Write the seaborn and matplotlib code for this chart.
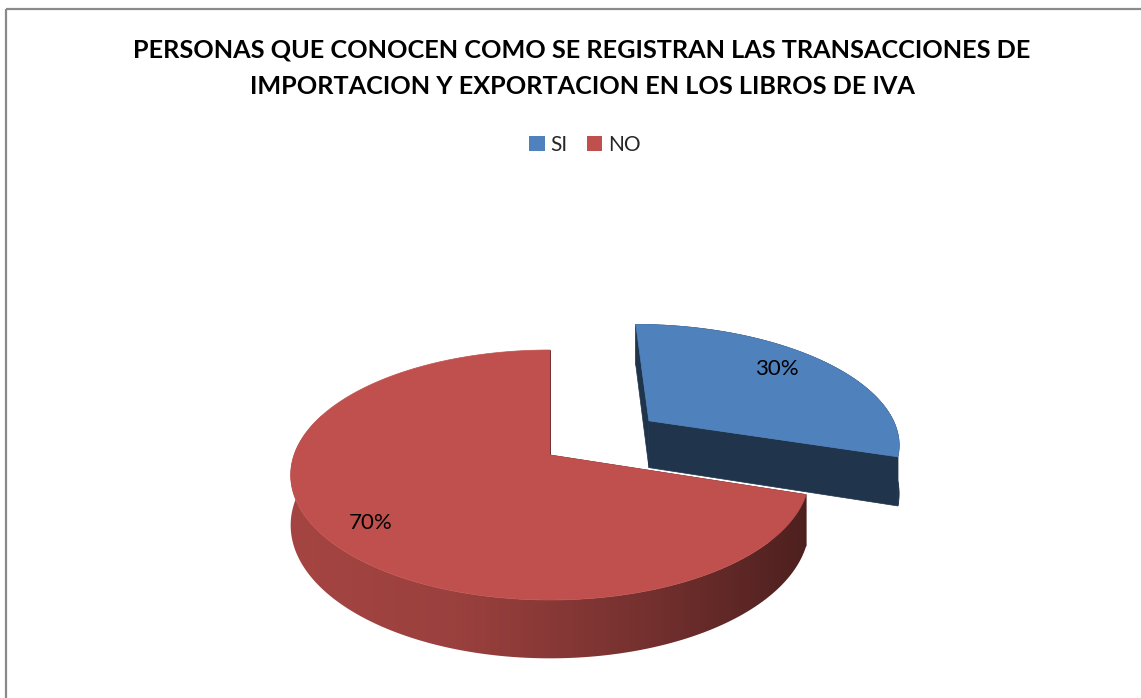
import numpy as np
import matplotlib
matplotlib.use("Agg")
import matplotlib.pyplot as plt
from matplotlib.patches import Polygon, Rectangle, Patch
from matplotlib.colors import LinearSegmentedColormap
import seaborn as sns

# ---- data ----
categories = ["SI", "NO"]
values = [30, 70]
pct_labels = ["30%", "70%"]
title_lines = ["PERSONAS QUE CONOCEN COMO SE REGISTRAN LAS TRANSACCIONES DE",
               "IMPORTACION Y EXPORTACION EN LOS LIBROS DE IVA"]
explode = [0.5, 0.0]

sns.set_theme(style="white")
plt.rcParams['font.family'] = ['Lato', 'DejaVu Sans']
top_colors = sns.color_palette(["#4F81BD", "#C0504D"])

W, H = 1141, 698
fig = plt.figure(figsize=(W / 100, H / 100), dpi=100)
ax = fig.add_axes([0, 0, 1, 1])

# ---- 3D perspective geometry ----
CX, CY = 550, 455
R, RY, K, DEPTH = 256, 121.8, 0.16, 49
label_r = [0.72, 0.8]
label_dy = [-8, 6]


def proj(u, v, z):
    s = 1.0 / (1.0 + K * v)
    return CX + R * u * s, CY - RY * v * s + DEPTH * z * s


def shade(c, f):
    return tuple(min(1, max(0, ch * f)) for ch in c)


total = float(sum(values))
start = 90.0
slices = []
for val in values:
    t0 = start
    t1 = start - 360.0 * val / total
    start = t1
    slices.append((t0, t1))

for i in range(len(values)):
    t0, t1 = slices[i]
    mid = np.radians((t0 + t1) / 2)
    a, b = explode[i] * np.cos(mid), explode[i] * np.sin(mid)
    ts = np.radians(np.linspace(t0, t1, 300))
    col = top_colors[i]
    dark = shade(col, 0.4)
    # radial faces
    for t in (np.radians(t0), np.radians(t1)):
        pts = [proj(a, b, 0), proj(a + np.cos(t), b + np.sin(t), 0),
               proj(a + np.cos(t), b + np.sin(t), 1), proj(a, b, 1)]
        ax.add_patch(Polygon(pts, closed=True, fc=dark, ec=dark, lw=0.5))
    # outer side (front part only; back part is hidden by the top face)
    lo = max(t1, -200.0)
    ts_side = np.radians(np.linspace(t0, lo, 300))
    top_rim = [proj(a + np.cos(t), b + np.sin(t), 0) for t in ts_side]
    bot_rim = [proj(a + np.cos(t), b + np.sin(t), 1) for t in ts_side[::-1]]
    side = Polygon(top_rim + bot_rim, closed=True, fc=dark if i == 0 else 'none',
                   ec=dark if i == 0 else 'none', lw=0.5)
    ax.add_patch(side)
    if i == 1:
        xs = [p[0] for p in top_rim]
        x0, x1 = min(xs) - 2, max(xs) + 2
        cmap = LinearSegmentedColormap.from_list(
            "side", [shade(col, 0.86), shade(col, 0.80), shade(col, 0.62), shade(col, 0.40)])
        grad = np.linspace(0, 1, 512)[None, :]
        ys = [p[1] for p in top_rim + bot_rim]
        im = ax.imshow(grad, cmap=cmap, aspect='auto',
                       extent=(x0, x1, max(ys) + 2, min(ys) - 2), interpolation='bilinear', zorder=1)
        im.set_clip_path(side)
    # top face
    pts = [proj(a, b, 0)] + [proj(a + np.cos(t), b + np.sin(t), 0) for t in ts]
    ax.add_patch(Polygon(pts, closed=True, fc=col, ec=col, lw=0.5, zorder=2))
    # label
    r = label_r[i]
    lx, ly = proj(a + r * np.cos(mid), b + r * np.sin(mid), 0)
    ax.text(lx, ly + label_dy[i], pct_labels[i], ha='center', va='center',
            fontsize=16, color='black', zorder=3)

ax.set_xlim(0, W)
ax.set_ylim(H, 0)
ax.axis('off')

# ---- title ----
fig.text(582 / W, 1 - 50 / H, title_lines[0], ha='center', va='center',
         fontsize=18.2, fontweight='bold', color='black')
fig.text(582 / W, 1 - 86 / H, title_lines[1], ha='center', va='center',
         fontsize=18.2, fontweight='bold', color='black')

# ---- legend ----
handles = [Patch(facecolor=top_colors[i], edgecolor='none', label=categories[i])
           for i in range(len(categories))]
fig.legend(handles=handles, loc='center', bbox_to_anchor=(585 / W, 1 - 145 / H), ncol=2,
           frameon=False, fontsize=15, handlelength=0.75, handleheight=0.75,
           handletextpad=0.3, columnspacing=0.9)

# ---- chart frame ----
ax.add_patch(Rectangle((5.5, 8.5), W + 20, H + 20, fill=False, ec='#8a8a8a', lw=1.6, zorder=5))

fig.savefig("out.png", dpi=100)
